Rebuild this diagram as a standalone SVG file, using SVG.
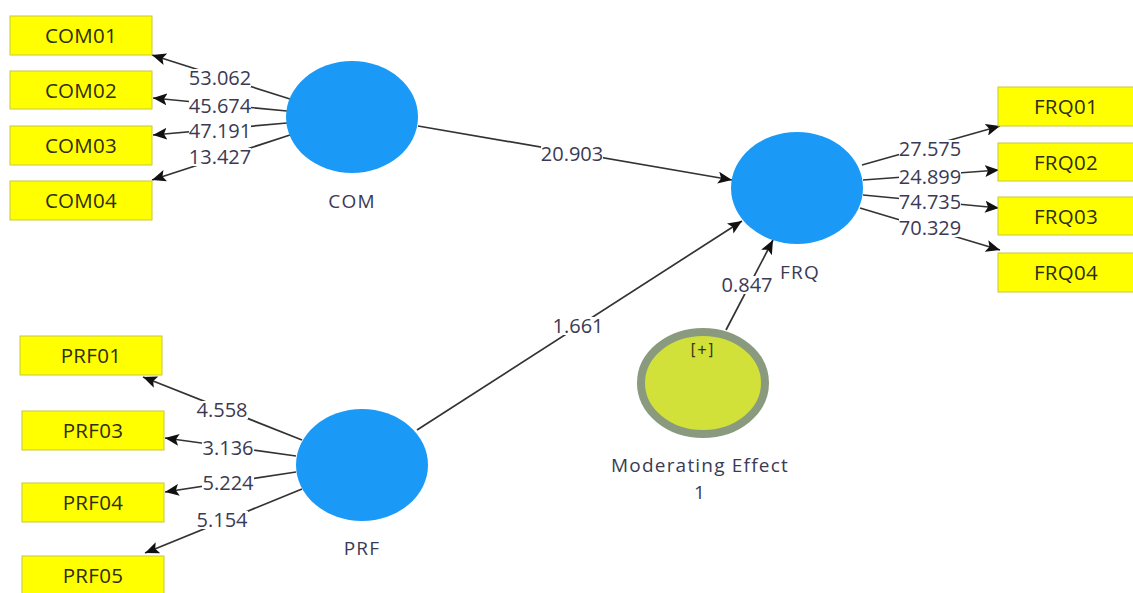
<svg xmlns="http://www.w3.org/2000/svg" width="1133" height="593" viewBox="0 0 1133 593">
<style>
.box{fill:#ffff00;stroke:#c8c83c;stroke-width:1}
.bt{font-family:"Open Sans","Noto Sans",sans-serif;font-size:20.5px;fill:#2e2e10;text-anchor:middle;letter-spacing:0.3px}
.lv{fill:#1a9af6}
.nl{font-family:"Open Sans","Noto Sans",sans-serif;font-size:19px;fill:#3a3a55;text-anchor:middle;letter-spacing:1.2px}
.el{font-family:"Open Sans","Noto Sans",sans-serif;font-size:20px;fill:#3a3a55;text-anchor:middle}
.bg{fill:#fff}
.c{stroke:#333;stroke-width:1.7;fill:none;marker-end:url(#ah)}
</style>
<defs>
<marker id="ah" viewBox="0 0 14 12" refX="14" refY="6" markerWidth="14" markerHeight="12" markerUnits="userSpaceOnUse" orient="auto">
<path d="M0,0 L14,6 L0,12 L3,6 Z" fill="#111"/>
</marker>
</defs>
<rect width="1133" height="593" fill="#fff"/>
<g id="connectors">
<line class="c" x1="290" y1="99" x2="152" y2="55"/>
<line class="c" x1="287" y1="111" x2="153" y2="98"/>
<line class="c" x1="287" y1="123" x2="153" y2="135"/>
<line class="c" x1="290" y1="135" x2="152" y2="180"/>
<line class="c" x1="418" y1="126" x2="732" y2="180"/>
<line class="c" x1="862" y1="165" x2="1000" y2="126"/>
<line class="c" x1="863" y1="180" x2="999" y2="170"/>
<line class="c" x1="863" y1="195" x2="999" y2="208"/>
<line class="c" x1="860" y1="208" x2="1000" y2="250"/>
<line class="c" x1="302" y1="440" x2="143" y2="377"/>
<line class="c" x1="296" y1="456" x2="165" y2="438"/>
<line class="c" x1="296" y1="472" x2="165" y2="492"/>
<line class="c" x1="302" y1="489" x2="145" y2="553"/>
<line class="c" x1="417" y1="430" x2="742" y2="221"/>
<line class="c" x1="726" y1="330" x2="773" y2="240"/>
<rect class="bg" x="189" y="69" width="62" height="18"/><text class="el" x="220" y="85">53.062</text>
<rect class="bg" x="189" y="97" width="62" height="18"/><text class="el" x="220" y="113">45.674</text>
<rect class="bg" x="189" y="122" width="62" height="18"/><text class="el" x="220" y="138">47.191</text>
<rect class="bg" x="189" y="148" width="62" height="18"/><text class="el" x="220" y="164">13.427</text>
<rect class="bg" x="541" y="145" width="62" height="18"/><text class="el" x="572" y="161">20.903</text>
<rect class="bg" x="899" y="140" width="62" height="18"/><text class="el" x="930" y="156">27.575</text>
<rect class="bg" x="899" y="168" width="62" height="18"/><text class="el" x="930" y="184">24.899</text>
<rect class="bg" x="899" y="193" width="62" height="18"/><text class="el" x="930" y="209">74.735</text>
<rect class="bg" x="899" y="219" width="62" height="18"/><text class="el" x="930" y="235">70.329</text>
<rect class="bg" x="196" y="401" width="52" height="18"/><text class="el" x="222" y="417">4.558</text>
<rect class="bg" x="202" y="439" width="52" height="18"/><text class="el" x="228" y="455">3.136</text>
<rect class="bg" x="202" y="474" width="52" height="18"/><text class="el" x="228" y="490">5.224</text>
<rect class="bg" x="196" y="511" width="52" height="18"/><text class="el" x="222" y="527">5.154</text>
<rect class="bg" x="552" y="317" width="52" height="18"/><text class="el" x="578" y="333">1.661</text>
<rect class="bg" x="721" y="276" width="52" height="18"/><text class="el" x="747" y="292">0.847</text>
</g>
<g id="COM01"><rect class="box" x="10" y="16" width="142" height="39"/><text class="bt" x="81" y="43">COM01</text></g>
<g id="COM02"><rect class="box" x="10" y="71" width="142" height="38"/><text class="bt" x="81" y="98">COM02</text></g>
<g id="COM03"><rect class="box" x="10" y="126" width="142" height="39"/><text class="bt" x="81" y="153">COM03</text></g>
<g id="COM04"><rect class="box" x="10" y="181" width="142" height="39"/><text class="bt" x="81" y="208">COM04</text></g>
<g id="COM"><ellipse class="lv" cx="352" cy="117" rx="66" ry="56"/><text class="nl" x="352" y="208">COM</text></g>
<g id="FRQ"><ellipse class="lv" cx="797" cy="188" rx="66" ry="56"/><text class="nl" x="800" y="279">FRQ</text></g>
<g id="FRQ01"><rect class="box" x="998" y="87" width="136" height="39"/><text class="bt" x="1066" y="114">FRQ01</text></g>
<g id="FRQ02"><rect class="box" x="998" y="143" width="136" height="38"/><text class="bt" x="1066" y="170">FRQ02</text></g>
<g id="FRQ03"><rect class="box" x="998" y="197" width="136" height="38"/><text class="bt" x="1066" y="224">FRQ03</text></g>
<g id="FRQ04"><rect class="box" x="998" y="253" width="136" height="39"/><text class="bt" x="1066" y="280">FRQ04</text></g>
<g id="PRF01"><rect class="box" x="20" y="336" width="142" height="39"/><text class="bt" x="91" y="363">PRF01</text></g>
<g id="PRF03"><rect class="box" x="22" y="411" width="142" height="39"/><text class="bt" x="93" y="438">PRF03</text></g>
<g id="PRF04"><rect class="box" x="22" y="483" width="142" height="39"/><text class="bt" x="93" y="510">PRF04</text></g>
<g id="PRF05"><rect class="box" x="22" y="556" width="142" height="40"/><text class="bt" x="93" y="583">PRF05</text></g>
<g id="PRF"><ellipse class="lv" cx="362" cy="465" rx="66" ry="56"/><text class="nl" x="362" y="555">PRF</text></g>
<g id="ModeratingEffect1">
<ellipse cx="703" cy="383" rx="62" ry="51" fill="#d2e03a" stroke="#8a9a7e" stroke-width="8"/>
<text x="702" y="355" font-family="'DejaVu Sans Mono','Liberation Mono',monospace" font-size="15" fill="#3a3a10" text-anchor="middle">[+]</text>
<text class="nl" x="700" y="472">Moderating Effect</text>
<text class="nl" x="700" y="499">1</text>
</g>
</svg>
